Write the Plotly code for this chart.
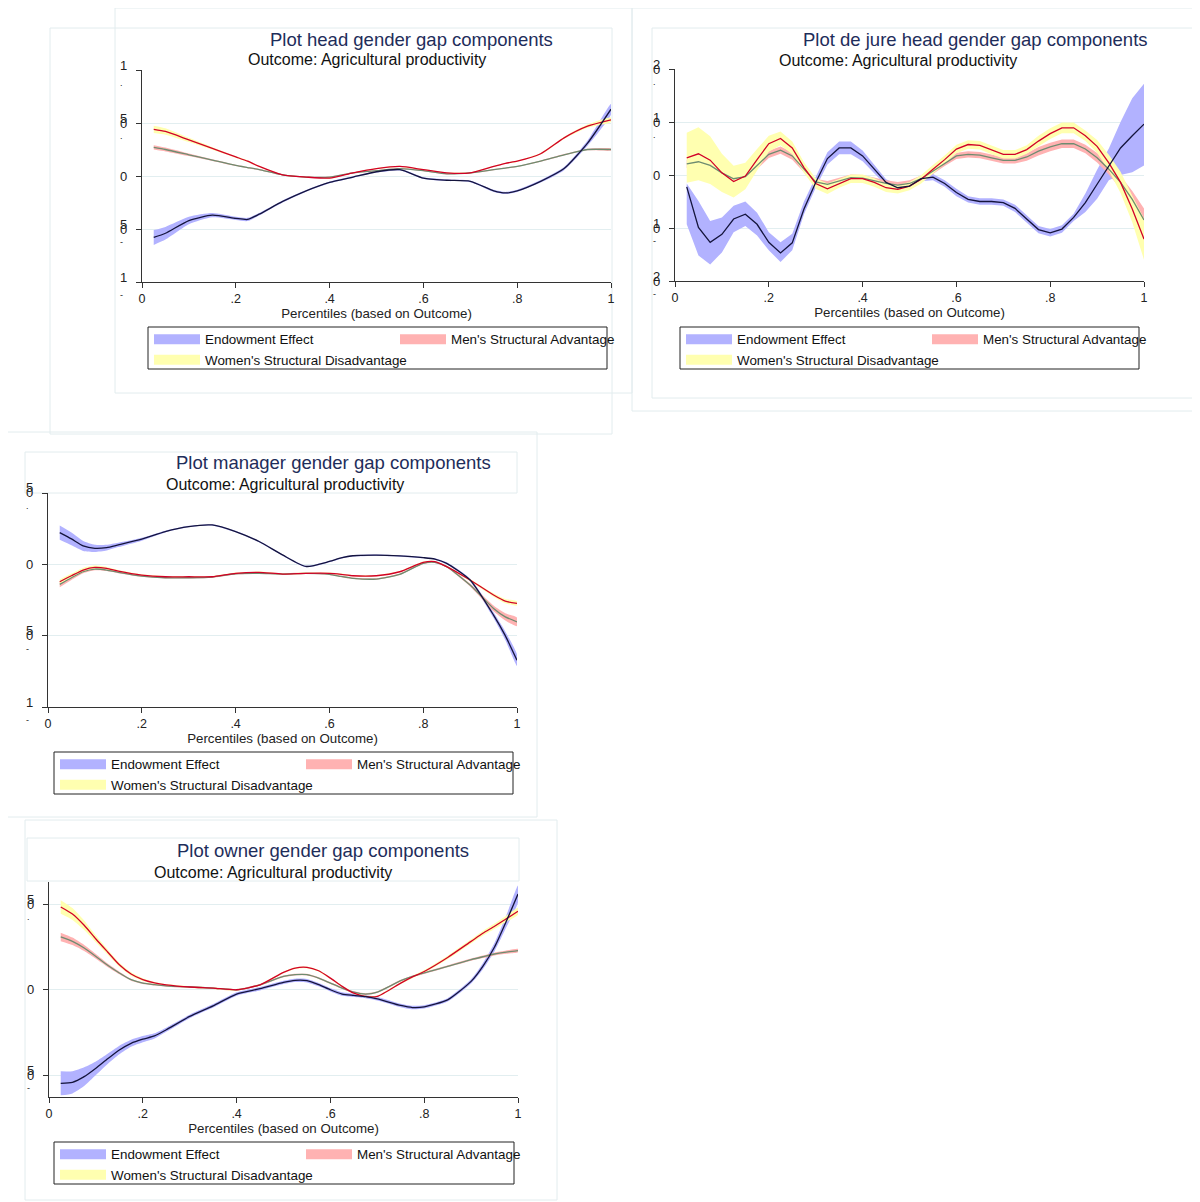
import plotly.graph_objects as go

# The page body adds an 8px margin, so the figure is drawn 8px smaller and all
# reference pixel positions are shifted by that offset.
OFF = 8
W, H = 1200 - OFF, 1202 - OFF
FONT = "Liberation Sans, Arial, Helvetica, sans-serif"

SERIES = ["Endowment Effect", "Men's Structural Advantage", "Women's Structural Disadvantage"]
TITLES = ["Plot head gender gap components", "Plot de jure head gender gap components",
          "Plot manager gender gap components", "Plot owner gender gap components"]
SUBTITLE = "Outcome: Agricultural productivity"
XTITLE = "Percentiles (based on Outcome)"
XTICKS = [0, 0.2, 0.4, 0.6, 0.8, 1]
XTICKTEXT = ["0", ".2", ".4", ".6", ".8", "1"]

# ---------------- Panel 1: head ----------------
P1_X = [0.025, 0.05, 0.1, 0.15, 0.2, 0.225, 0.25, 0.3, 0.35, 0.4, 0.45, 0.5, 0.55, 0.6, 0.65, 0.7,
        0.75, 0.775, 0.8, 0.85, 0.9, 0.95, 1.0]
P1_ENDOW = [-0.58, -0.54, -0.42, -0.37, -0.40, -0.41, -0.36, -0.24, -0.14, -0.06, -0.01, 0.04, 0.06,
            -0.02, -0.04, -0.05, -0.14, -0.16, -0.14, -0.05, 0.07, 0.31, 0.63]
P1_ENDOW_HW = [0.07, 0.06, 0.035, 0.02, 0.015, 0.015, 0.012, 0.01, 0.008, 0.008, 0.008, 0.008, 0.008,
               0.008, 0.008, 0.008, 0.01, 0.01, 0.01, 0.012, 0.015, 0.025, 0.05]
P1_MEN = [0.27, 0.25, 0.20, 0.15, 0.10, 0.08, 0.06, 0.01, -0.01, -0.01, 0.03, 0.05, 0.07, 0.05, 0.02,
          0.03, 0.06, 0.075, 0.09, 0.14, 0.20, 0.25, 0.25]
P1_MEN_HW = [0.02, 0.018, 0.012, 0.008, 0.006, 0.006, 0.006, 0.005, 0.005, 0.005, 0.005, 0.005, 0.005,
             0.005, 0.005, 0.005, 0.005, 0.005, 0.005, 0.006, 0.007, 0.008, 0.01]
P1_WOMEN = [0.44, 0.42, 0.34, 0.26, 0.18, 0.14, 0.09, 0.01, -0.01, -0.02, 0.03, 0.07, 0.09, 0.06, 0.03,
            0.03, 0.09, 0.12, 0.14, 0.21, 0.36, 0.47, 0.53]
P1_WOMEN_HW = [0.035, 0.03, 0.02, 0.012, 0.008, 0.008, 0.007, 0.006, 0.005, 0.005, 0.005, 0.006, 0.006,
               0.006, 0.006, 0.006, 0.006, 0.006, 0.007, 0.008, 0.01, 0.015, 0.02]

# ---------------- Panel 2: de jure head ----------------
P2_X = [0.025, 0.05, 0.075, 0.1, 0.125, 0.15, 0.175, 0.2, 0.225, 0.25,
        0.275, 0.3, 0.325, 0.35, 0.375, 0.4, 0.425, 0.45, 0.475, 0.5,
        0.525, 0.55, 0.575, 0.6, 0.625, 0.65, 0.675, 0.7, 0.725, 0.75,
        0.775, 0.8, 0.825, 0.85, 0.875, 0.9, 0.925, 0.95, 0.975, 1.0]
P2_ENDOW = [-0.225, -0.99, -1.27, -1.12, -0.83, -0.74, -0.93, -1.27, -1.47, -1.28,
            -0.64, -0.14, 0.31, 0.51, 0.51, 0.36, 0.11, -0.14, -0.24, -0.21,
            -0.07, -0.04, -0.16, -0.33, -0.46, -0.50, -0.50, -0.52, -0.63, -0.83,
            -1.03, -1.09, -1.02, -0.80, -0.52, -0.175, 0.18, 0.51, 0.74, 0.96]
P2_ENDOW_LO = [-0.93, -1.52, -1.69, -1.46, -1.08, -0.96, -1.14, -1.42, -1.64, -1.42,
               -0.74, -0.24, 0.20, 0.39, 0.39, 0.26, 0.03, -0.20, -0.30, -0.27,
               -0.12, -0.10, -0.22, -0.40, -0.52, -0.56, -0.56, -0.58, -0.70, -0.90,
               -1.10, -1.16, -1.09, -0.87, -0.70, -0.45, -0.10, 0.00, 0.05, 0.18]
P2_ENDOW_HI = [-0.16, -0.49, -0.87, -0.80, -0.58, -0.50, -0.71, -1.08, -1.27, -1.11,
               -0.50, -0.04, 0.43, 0.63, 0.63, 0.46, 0.19, -0.08, -0.18, -0.15,
               -0.02, 0.02, -0.10, -0.26, -0.40, -0.44, -0.44, -0.46, -0.56, -0.76,
               -0.96, -1.02, -0.95, -0.73, -0.35, 0.10, 0.50, 1.00, 1.45, 1.72]
P2_MEN = [0.21, 0.25, 0.18, 0.04, -0.07, -0.03, 0.18, 0.39, 0.47, 0.36,
          0.11, -0.13, -0.175, -0.11, -0.05, -0.06, -0.11, -0.16, -0.19, -0.16,
          -0.07, 0.075, 0.23, 0.36, 0.39, 0.375, 0.325, 0.275, 0.275, 0.34,
          0.45, 0.53, 0.59, 0.59, 0.49, 0.325, 0.11, -0.14, -0.46, -0.85]
P2_MEN_HW = [0.08, 0.08, 0.08, 0.07, 0.07, 0.07, 0.07, 0.07, 0.07, 0.07,
             0.06, 0.06, 0.06, 0.06, 0.06, 0.06, 0.06, 0.06, 0.06, 0.06,
             0.06, 0.06, 0.06, 0.06, 0.06, 0.06, 0.06, 0.06, 0.06, 0.07,
             0.08, 0.08, 0.08, 0.08, 0.08, 0.09, 0.10, 0.12, 0.16, 0.22]
P2_WOMEN = [0.325, 0.40, 0.28, 0.04, -0.125, -0.02, 0.29, 0.59, 0.69, 0.51,
            0.14, -0.16, -0.26, -0.16, -0.07, -0.07, -0.14, -0.24, -0.27, -0.21,
            -0.08, 0.11, 0.29, 0.49, 0.575, 0.56, 0.47, 0.39, 0.39, 0.48,
            0.64, 0.78, 0.89, 0.89, 0.74, 0.54, 0.23, -0.14, -0.64, -1.21]
P2_WOMEN_HW = [0.47, 0.50, 0.45, 0.36, 0.30, 0.25, 0.20, 0.15, 0.13, 0.12,
               0.10, 0.10, 0.10, 0.08, 0.08, 0.08, 0.08, 0.08, 0.08, 0.08,
               0.08, 0.08, 0.08, 0.08, 0.08, 0.08, 0.08, 0.08, 0.08, 0.08,
               0.10, 0.10, 0.10, 0.10, 0.10, 0.12, 0.15, 0.20, 0.25, 0.39]

# ---------------- Panel 3: manager ----------------
P3_X = [0.025, 0.05, 0.075, 0.1, 0.125, 0.15, 0.2, 0.25, 0.3, 0.35, 0.4, 0.45, 0.5, 0.55, 0.6,
        0.625, 0.65, 0.7, 0.75, 0.8, 0.825, 0.85, 0.9, 0.95, 0.975, 1.0]
P3_ENDOW = [0.222, 0.178, 0.129, 0.112, 0.117, 0.136, 0.176, 0.23, 0.265, 0.276, 0.23, 0.16, 0.066,
            -0.015, 0.02, 0.045, 0.06, 0.064, 0.059, 0.047, 0.037, 0.007, -0.11, -0.356, -0.50, -0.672]
P3_ENDOW_HW = [0.05, 0.045, 0.035, 0.025, 0.02, 0.015, 0.01, 0.006, 0.005, 0.005, 0.005, 0.005, 0.005,
               0.005, 0.005, 0.005, 0.005, 0.005, 0.005, 0.005, 0.006, 0.007, 0.01, 0.02, 0.03, 0.04]
P3_MEN = [-0.14, -0.094, -0.052, -0.033, -0.04, -0.056, -0.082, -0.094, -0.094, -0.089, -0.066, -0.063,
          -0.068, -0.063, -0.07, -0.085, -0.098, -0.103, -0.07, 0.007, 0.014, -0.016, -0.145, -0.309,
          -0.368, -0.403]
P3_MEN_HW = [0.02, 0.015, 0.01, 0.008, 0.007, 0.006, 0.005, 0.005, 0.005, 0.005, 0.005, 0.005, 0.005,
             0.005, 0.005, 0.005, 0.005, 0.005, 0.005, 0.005, 0.005, 0.006, 0.01, 0.02, 0.025, 0.03]
P3_WOMEN = [-0.122, -0.08, -0.04, -0.021, -0.028, -0.047, -0.075, -0.087, -0.087, -0.087, -0.063, -0.056,
            -0.068, -0.063, -0.063, -0.07, -0.08, -0.08, -0.052, 0.014, 0.019, -0.016, -0.11, -0.215,
            -0.258, -0.274]
P3_WOMEN_HW = [0.015, 0.015, 0.015, 0.012, 0.01, 0.008, 0.005, 0.005, 0.005, 0.005, 0.005, 0.005, 0.005,
               0.005, 0.005, 0.005, 0.005, 0.005, 0.005, 0.005, 0.005, 0.006, 0.008, 0.012, 0.015, 0.015]

# ---------------- Panel 4: owner ----------------
P4_X = [0.025, 0.05, 0.075, 0.1, 0.125, 0.15, 0.175, 0.2, 0.225, 0.25, 0.3, 0.35, 0.4, 0.45, 0.5, 0.525,
        0.55, 0.575, 0.6, 0.625, 0.65, 0.675, 0.7, 0.75, 0.775, 0.8, 0.85, 0.9, 0.925, 0.95, 0.975, 1.0]
P4_ENDOW = [-0.547, -0.541, -0.508, -0.459, -0.404, -0.352, -0.313, -0.289, -0.27, -0.234, -0.156, -0.094,
            -0.025, 0.006, 0.043, 0.055, 0.053, 0.03, 0.0, -0.025, -0.033, -0.04, -0.053, -0.092, -0.104,
            -0.1, -0.059, 0.049, 0.137, 0.25, 0.40, 0.56]
P4_ENDOW_HW = [0.07, 0.065, 0.055, 0.04, 0.03, 0.025, 0.02, 0.018, 0.015, 0.012, 0.01, 0.01, 0.01, 0.01,
               0.01, 0.01, 0.01, 0.01, 0.01, 0.01, 0.01, 0.01, 0.01, 0.01, 0.01, 0.01, 0.01, 0.012, 0.018,
               0.025, 0.035, 0.05]
P4_MEN = [0.309, 0.283, 0.244, 0.195, 0.143, 0.098, 0.059, 0.039, 0.03, 0.023, 0.016, 0.01, 0.0, 0.029,
          0.078, 0.088, 0.088, 0.068, 0.039, 0.01, -0.014, -0.025, -0.014, 0.053, 0.078, 0.098, 0.137,
          0.176, 0.193, 0.209, 0.22, 0.229]
P4_MEN_HW = [0.025, 0.022, 0.018, 0.014, 0.01, 0.008, 0.006, 0.005, 0.005, 0.005, 0.005, 0.005, 0.005,
             0.005, 0.005, 0.005, 0.005, 0.005, 0.005, 0.005, 0.005, 0.005, 0.005, 0.005, 0.005, 0.006,
             0.006, 0.007, 0.008, 0.008, 0.009, 0.01]
P4_WOMEN = [0.484, 0.443, 0.377, 0.297, 0.221, 0.146, 0.092, 0.059, 0.04, 0.029, 0.016, 0.01, 0.0, 0.029,
            0.102, 0.127, 0.131, 0.111, 0.068, 0.02, -0.02, -0.039, -0.039, 0.039, 0.075, 0.107, 0.189,
            0.283, 0.33, 0.371, 0.415, 0.459]
P4_WOMEN_HW = [0.04, 0.035, 0.028, 0.02, 0.015, 0.012, 0.01, 0.008, 0.006, 0.005, 0.005, 0.005, 0.005,
               0.005, 0.005, 0.005, 0.005, 0.005, 0.005, 0.005, 0.005, 0.005, 0.005, 0.006, 0.007, 0.008,
               0.01, 0.012, 0.014, 0.016, 0.018, 0.02]

# y ticks, gridlines, and the (overlapping) glyphs of the rotated tick labels
P1_YTICKS = [1, 0.5, 0, -0.5, -1]
P1_YGRID = [0.5, 0, -0.5]
P1_YLABELS = [["1", "", "."], ["5", "0", "."], ["", "0", ""], ["5", "0", "-"], ["1", "", "-"]]
P2_YTICKS = [2, 1, 0, -1, -2]
P2_YGRID = [1, 0, -1]
P2_YLABELS = [["2", "0", "."], ["1", "0", "."], ["", "0", ""], ["1", "0", "-"], ["2", "0", "-"]]
P3_YTICKS = [0.5, 0, -0.5, -1]
P3_YGRID = [0.5, 0, -0.5]
P3_YLABELS = [["5", "0", "."], ["", "0", ""], ["5", "0", "-"], ["1", "", "-"]]
P4_YTICKS = [0.5, 0, -0.5]
P4_YGRID = [0.5, 0, -0.5]
P4_YLABELS = [["5", "0", "."], ["", "0", ""], ["5", "0", "-"]]

BAND_COLORS = ["rgb(178,178,255)", "rgb(255,178,178)", "rgb(255,255,176)"]
LINE_COLORS = ["rgb(20,20,60)", "rgb(110,140,112)", "rgb(210,0,40)"]
TITLE_COLOR = "rgb(30,45,90)"
FRAME_COLOR = "rgb(226,236,238)"
GRID_COLOR = "rgb(226,238,240)"

PANELS = [
    dict(x=P1_X, endow=P1_ENDOW, elo=None, ehi=None, ehw=P1_ENDOW_HW, men=P1_MEN, mhw=P1_MEN_HW,
         women=P1_WOMEN, whw=P1_WOMEN_HW, shape="spline", yrange=[-1, 1], yticks=P1_YTICKS,
         ygrid=P1_YGRID, ylabels=P1_YLABELS, box=(142, 611, 70, 282), title=(411, 39), sub=(367, 59),
         lbox=(148, 327, 607, 369)),
    dict(x=P2_X, endow=P2_ENDOW, elo=P2_ENDOW_LO, ehi=P2_ENDOW_HI, ehw=None, men=P2_MEN, mhw=P2_MEN_HW,
         women=P2_WOMEN, whw=P2_WOMEN_HW, shape="linear", yrange=[-2, 2], yticks=P2_YTICKS,
         ygrid=P2_YGRID, ylabels=P2_YLABELS, box=(675, 1144, 69, 281), title=(975, 39), sub=(898, 60),
         lbox=(680, 327, 1139, 369)),
    dict(x=P3_X, endow=P3_ENDOW, elo=None, ehi=None, ehw=P3_ENDOW_HW, men=P3_MEN, mhw=P3_MEN_HW,
         women=P3_WOMEN, whw=P3_WOMEN_HW, shape="spline", yrange=[-1, 0.5], yticks=P3_YTICKS,
         ygrid=P3_YGRID, ylabels=P3_YLABELS, box=(48, 517, 493, 707), title=(333, 463), sub=(285, 484),
         lbox=(54, 752, 513, 794)),
    dict(x=P4_X, endow=P4_ENDOW, elo=None, ehi=None, ehw=P4_ENDOW_HW, men=P4_MEN, mhw=P4_MEN_HW,
         women=P4_WOMEN, whw=P4_WOMEN_HW, shape="spline", yrange=[-0.627, 0.630], yticks=P4_YTICKS,
         ygrid=P4_YGRID, ylabels=P4_YLABELS, box=(49, 518, 882, 1097), title=(323, 850), sub=(273, 872),
         lbox=(54, 1142, 514, 1184)),
]

FRAMES = [
    (115, 8, 632, 393), (50, 28, 612, 434),
    (632, 8, 1199, 411), (652, 28, 1199, 398),
    (7, 432, 537, 817), (25, 452, 517, 493),
    (25, 820, 557, 1200), (27, 838, 519, 881),
]


def px(xp):
    return (xp - OFF) / W


def py(yp):
    return 1 - (yp - OFF) / H


fig = go.Figure()
annotations = []
shapes = []

for x0, y0, x1, y1 in FRAMES:
    shapes.append(dict(type="rect", xref="paper", yref="paper", x0=px(x0), x1=px(x1), y0=py(y1), y1=py(y0),
                       line=dict(color=FRAME_COLOR, width=1), fillcolor="rgba(0,0,0,0)", layer="below"))

for i, p in enumerate(PANELS):
    n = i + 1
    sfx = "" if n == 1 else str(n)
    xa, ya = "x" + sfx, "y" + sfx
    legA = "legend" if n == 1 else f"legend{2 * n - 1}"
    legB = f"legend{2 * n}"
    xs = p["x"]
    if p["elo"] is not None:
        elo, ehi = p["elo"], p["ehi"]
    else:
        elo = [v - h for v, h in zip(p["endow"], p["ehw"])]
        ehi = [v + h for v, h in zip(p["endow"], p["ehw"])]
    mlo = [v - h for v, h in zip(p["men"], p["mhw"])]
    mhi = [v + h for v, h in zip(p["men"], p["mhw"])]
    wlo = [v - h for v, h in zip(p["women"], p["whw"])]
    whi = [v + h for v, h in zip(p["women"], p["whw"])]
    bands = [(elo, ehi), (mlo, mhi), (wlo, whi)]
    for k, (lo, hi) in enumerate(bands):
        fig.add_trace(go.Scatter(
            x=list(xs) + list(xs)[::-1], y=list(hi) + list(lo)[::-1],
            fill="toself", fillcolor=BAND_COLORS[k], mode="lines",
            line=dict(width=0, color=BAND_COLORS[k], shape=p["shape"], smoothing=0.6),
            name=SERIES[k], legendgroup=f"p{n}s{k}", showlegend=False,
            xaxis=xa, yaxis=ya, hoverinfo="skip"))
    for k, vals in [(1, p["men"]), (2, p["women"]), (0, p["endow"])]:
        fig.add_trace(go.Scatter(
            x=xs, y=vals, mode="lines",
            line=dict(width=1.3, color=LINE_COLORS[k], shape=p["shape"], smoothing=0.6),
            name=SERIES[k], showlegend=False, xaxis=xa, yaxis=ya))
    # legend keys (wide solid swatches, as in the original key)
    for k, leg in [(0, legA), (2, legA), (1, legB)]:
        fig.add_trace(go.Scatter(
            x=[None], y=[None], mode="lines", line=dict(width=11, color=BAND_COLORS[k]),
            name=SERIES[k], legend=leg, legendgroup=f"p{n}s{k}", showlegend=True,
            xaxis=xa, yaxis=ya))

    l, r, t, b = p["box"]
    fig.layout["xaxis" + sfx] = dict(
        domain=[px(l), px(r)], range=[0, 1], anchor=ya, tickmode="array", tickvals=XTICKS,
        ticktext=XTICKTEXT, ticks="outside", ticklen=5, tickcolor="#333", showline=True,
        linecolor="#333", linewidth=1, showgrid=False, zeroline=False, automargin=False,
        tickfont=dict(size=12.5, color="#222", family=FONT),
        title=dict(text=XTITLE, font=dict(size=13.3, color="#222", family=FONT), standoff=0))
    fig.layout["yaxis" + sfx] = dict(
        domain=[py(b), py(t)], range=p["yrange"], anchor=xa, tickmode="array", tickvals=p["yticks"],
        showticklabels=False, ticks="outside", ticklen=5, tickcolor="#333", showline=True,
        linecolor="#333", linewidth=1, showgrid=False, zeroline=False, automargin=False,
        minor=dict(tickmode="array", tickvals=p["ygrid"], showgrid=True, gridcolor=GRID_COLOR,
                   gridwidth=1, ticks=""))

    # rotated-label glyphs (overlapping characters, as in the original export)
    gx = px(l - 19)
    for tv, (up, mid, mark) in zip(p["yticks"], p["ylabels"]):
        if up:
            annotations.append(dict(text=up, xref="paper", yref=ya, x=gx, y=tv, yshift=5,
                                    xanchor="center", yanchor="middle", showarrow=False,
                                    font=dict(size=13, color="#222", family=FONT)))
        if mid:
            annotations.append(dict(text=mid, xref="paper", yref=ya, x=gx, y=tv, yshift=0,
                                    xanchor="center", yanchor="middle", showarrow=False,
                                    font=dict(size=13, color="#222", family=FONT)))
        if mark:
            annotations.append(dict(text=mark, xref="paper", yref=ya, x=px(l - 21), y=tv, yshift=-13,
                                    xanchor="center", yanchor="middle", showarrow=False,
                                    font=dict(size=9, color="#222", family=FONT)))

    tx, ty = p["title"]
    annotations.append(dict(text=TITLES[i], xref="paper", yref="paper", x=px(tx), y=py(ty),
                            xanchor="center", yanchor="middle", showarrow=False,
                            font=dict(size=18.5, color=TITLE_COLOR, family=FONT)))
    sx, sy = p["sub"]
    annotations.append(dict(text=SUBTITLE, xref="paper", yref="paper", x=px(sx), y=py(sy),
                            xanchor="center", yanchor="middle", showarrow=False,
                            font=dict(size=16, color="#111", family=FONT)))

    bx0, by0, bx1, by1 = p["lbox"]
    shapes.append(dict(type="rect", xref="paper", yref="paper", x0=px(bx0), x1=px(bx1), y0=py(by1),
                       y1=py(by0), line=dict(color="#222", width=1), fillcolor="rgba(0,0,0,0)"))

    common = dict(yanchor="top", xanchor="left", borderwidth=0, bgcolor="rgba(0,0,0,0)",
                  font=dict(size=13.4, color="#111", family=FONT), itemwidth=46, tracegroupgap=0)
    fig.layout[legA] = dict(x=px(bx0 + 1), y=py(by0 - 3), orientation="v", **common)
    fig.layout[legB] = dict(x=px(bx0 + 247), y=py(by0 - 3), orientation="v", **common)

fig.update_layout(
    width=W, height=H, margin=dict(l=0, r=0, t=0, b=0),
    paper_bgcolor="white", plot_bgcolor="white",
    font=dict(family=FONT, size=12, color="#222"),
    annotations=annotations, shapes=shapes, hovermode=False)

fig.write_html("out.html")
